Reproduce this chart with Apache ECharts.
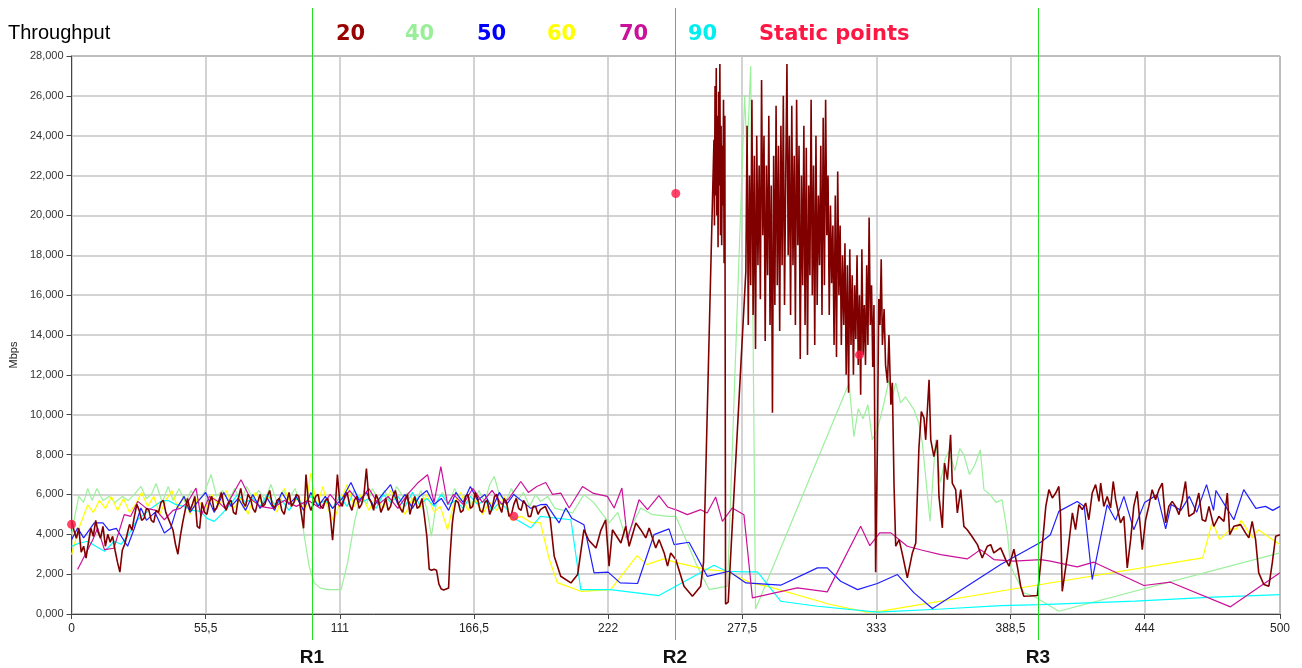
<!DOCTYPE html>
<html><head><meta charset="utf-8">
<script src="https://cdn.jsdelivr.net/npm/echarts@6/dist/echarts.min.js"></script>
<style>html,body{margin:0;padding:0;background:#fff}#c{width:1302px;height:668px}</style>
</head><body><div id="c"></div>
<script>
// ---------------- DATA ----------------
const xTicks = [0, 55.5, 111, 166.5, 222, 277.5, 333, 388.5, 444, 500];
const seriesNames = ['20', '40', '50', '60', '70', '90'];
const staticName = 'Static points';
const refX = [100, 250, 400];
const refNames = ['R1', 'R2', 'R3'];
const staticPoints = [[0, 4500], [183, 4900], [250, 21100], [326, 13000]];

const s20 = [[0,4700],[1,4200],[2,3800],[3,4300],[4,3100],[5,3400],[6,2800],[7,3600],[8,4300],[9,3900],[10,4700],[11,4100],[12,3800],[13,4400],[14,3400],[15,4000],[16,3600],[17,3900],[18,3200],[19,2600],[20,2100],[21,3200],[22,3500],[23,4000],[24,4500],[25,4200],[26,4900],[27,5500],[28,5200],[29,4700],[30,4800],[31,5300],[32,5200],[33,4700],[34,4600],[35,5200],[36,5100],[37,5600],[38,5700],[39,5100],[40,4800],[41,4500],[42,4200],[43,3500],[44,3000],[45,3900],[46,4600],[47,5200],[48,5800],[49,5200],[50,5500],[51,5900],[52,4400],[53,4300],[54,5600],[55,5100],[56,5000],[57,5600],[58,5900],[59,5200],[60,5300],[61,5700],[62,6100],[63,5500],[64,5200],[65,5600],[66,5700],[67,5100],[68,5000],[69,5800],[70,6300],[71,5600],[72,5400],[73,6000],[74,5800],[75,5300],[76,5100],[77,5600],[78,6000],[79,5400],[80,5500],[81,5900],[82,6200],[83,5500],[84,5300],[85,5700],[86,5800],[87,5200],[88,5000],[89,5600],[90,6100],[91,5400],[92,5600],[93,6000],[94,5900],[95,5100],[96,4300],[97,7000],[98,5600],[99,5200],[100,5500],
[101,5900],[102,6000],[103,5400],[104,5300],[105,5700],[106,5800],[107,5000],[108,3700],[109,5200],[110,7000],[111,5600],[112,5400],[113,5900],[114,6100],[115,5500],[116,5200],[117,5700],[118,5900],[119,5300],[120,5500],[121,6000],[122,7300],[123,5800],[124,5600],[125,5200],[126,6000],[127,5700],[128,5100],[129,5400],[130,5800],[131,5200],[132,5400],[133,5900],[134,6200],[135,5600],[136,5300],[137,5100],[138,5700],[139,6000],[140,5000],[141,5500],[142,5900],[143,5300],[144,5400],[145,5800],[146,4900],[147,3900],[148,2250],[149,2200],[150,2250],[151,2200],[152,1500],[153,1250],[154,1200],[155,1250],[156,1300],[156.5,2700],[157.5,4500],[158,5000],[159,5700],[160,5600],[161,5100],[162,5200],[163,5900],[164,6000],[165,5300],[166,5400],[167,6100],[168,5800],[169,5200],[170,5100],[171,5600],[172,5700],[173,5000],[174,5300],[175,5900],[176,6000],[177,5400],[178,5100],[179,5800],[180,5600],[181,4900],[182,5000],[183,5500],[184,5800],[185,5300],[186,5200],[187,5700],[188,5500],[189,4900],[190,4900],[191,5400],[192,5400],[193,5000],[194,5235],[196,5400],[198,4820],[199.7,2900],[202.4,1895],[206.6,1560],[209.4,1980],[212,4230],[214,3700],[217,3315],[219,4200],[221,4730],[222.4,2400],[223.8,4230],[227.3,3565],[229.3,4400],[230.7,3400],[233.5,4570],[235.5,4230],[237.6,3820],[239,4320],[241.7,3315],[243.1,3730],[245.2,3065],[246.6,2400],[247.9,3065],[250,2730],[253.4,1395],[256.9,890],[260.3,1395],[261.5,2600],
[265.8,23800],[266,19500],[266.25,26500],[266.5,21000],[266.75,27400],[267,20000],[267.25,25000],[267.5,18400],[267.75,26200],[268,21500],[268.25,27600],[268.5,19000],[268.75,24500],[269,18500],[269.25,23500],[269.5,20500],[269.75,25800],[270,17600],[270.3,25000],[270.6,500],[271.7,600],
[279,17200],[279.5,24500],[280,14500],[280.5,22000],[281,16500],[281.5,25800],[282,15000],[282.5,23000],[283,13300],[283.5,24000],[284,17500],[284.5,22500],[285,15800],[285.5,26800],[286,19000],[286.5,24000],[287,13700],[287.5,22500],[288,17000],[288.5,25000],[289,14500],[289.5,21500],[290,10100],[290.5,23000],[291,15500],[291.5,25500],[292,16500],[292.5,23500],[293,14200],[293.5,24500],[294,17500],[294.5,26000],[295,15500],[295.5,22000],[296,27600],[296.5,18000],[297,24000],[297.5,15000],[298,25500],[298.5,17500],[299,23000],[299.5,14500],[300,25800],[300.5,18500],[301,23500],[301.5,12800],[302,22000],[302.5,16500],[303,24500],[303.5,14500],[304,23400],[304.5,13000],[305,21500],[305.5,17000],[306,25800],[306.5,16000],[307,22500],[307.5,13500],[308,24000],[308.5,15500],[309,21000],[309.5,17500],[310,23500],[310.5,15000],[311,24900],[311.5,16500],[312,25800],[312.5,19000],[313,22000],[313.5,15000],[314,20500],[314.5,16600],[315,19500],[315.5,13500],[316,21000],[316.5,12900],[317,22200],[317.5,16000],[318,19500],[318.5,13500],[319,18000],[319.5,14500],[320,18600],[320.5,12000],[321,17500],[321.5,11100],[322,18300],[322.5,13500],[323,17000],[323.5,12000],[324,16500],[324.5,13800],[325,18000],[325.5,12500],[326,16000],[326.5,11000],[327,18300],[327.5,13000],[328,15500],[328.5,12500],[329,17500],[329.5,13500],[330,19900],[330.5,14500],[331,16500],[331.5,12400],[332,15500],[332.7,2100],[333.4,8200],[334,15800],[334.5,14500],[335,17800],[335.5,13500],[336.2,15300],[336.8,12500],[337.6,11600],[338.2,14000],
[339,10500],[339.6,11600],[340.3,6500],[341,3400],[342.4,3730],[343.8,2980],[345.8,1810],[347.9,3065],[349.3,3565],[350.6,8325],[351.6,10160],[352.7,9830],[353.4,8740],[354.8,11750],[355.5,8740],[356.8,7900],[358.2,8740],[358.9,5900],[360.3,4320],[361.2,7570],[362.4,6740],[363.7,8990],[364.4,6570],[365.8,6240],[366.5,5070],[367.9,6240],[369.2,4400],[370.6,4230],[372.5,3900],[374.8,3480],[376.8,2815],[378.9,3400],[380.3,3480],[381.6,3065],[384.4,3315],[386.5,2730],[387.9,2400],[389.9,3250],[391.3,2400],[392.7,1395],[394,890],[396.5,900],[399.6,925],[401,2565],[403.1,5400],[404.4,6240],[405.8,5820],[407.2,6070],[408.5,6400],[409.2,4900],[409.9,1140],[412,2900],[414.1,5070],[415.4,4230],[416.8,5485],[418.2,5235],[419.6,5570],[420.9,4730],[422.3,6070],[423.7,6490],[425.1,5650],[425.8,6570],[427.1,5400],[428.5,5900],[429.9,5320],[431,6650],[432,5735],[434,4570],[435.4,4900],[436.8,2315],[438.2,3730],[439.5,5400],[440.9,6150],[442.3,4230],[443,3230],[444.4,4730],[445.7,5400],[447.1,6240],[448.5,5735],[449.9,6240],[451.3,6570],[452.7,4570],[454,5400],[455.4,5650],[456.8,5400],[458.2,4985],[459.6,5735],[460.9,6650],[462.3,4900],[464.4,5070],[466.4,6070],[467.8,4730],[469.2,4650],[470.6,5400],[472.6,4400],[474.7,4900],[476.8,4650],[478.2,6070],[479.2,3980],[480.9,4400],[483.7,4485],[485.7,4070],[487.1,3820],[488.5,4650],[489.9,3730],[491.2,2065],[493.3,1480],[495.4,1395],[496.8,2565],[498.2,3900],[500,3980]];

const s40 = [[0,4000],[1.5,5000],[3,5900],[5,5600],[6.7,6300],[8.5,5700],[10.5,6300],[13,5700],[15.5,5900],[18,5600],[21,5900],[23.5,5700],[26,6000],[28.7,6400],[31,5800],[33,6000],[35,6550],[37.5,5600],[40,6400],[42,5700],[44.5,6300],[47,5600],[49.5,6200],[52,5600],[55,6100],[57.7,7000],[60,5900],[62.5,6200],[65,5700],[67.5,6300],[70,5600],[72.5,6400],[75,5800],[77.5,6200],[80,5700],[82.5,6500],[85,5600],[87.5,6200],[90,5800],[92.5,6300],[94.5,5500],[96.3,3900],[98.3,2400],[100.4,1560],[103,1300],[106,1225],[111.5,1225],[114.2,2565],[117,4570],[119.7,5990],[122,5500],[124.5,6300],[127,5700],[129.5,6200],[132,5600],[134.5,6400],[137,5900],[139.5,6100],[142,5500],[144.5,6200],[147,5300],[148.9,3900],[151,5600],[153.5,6100],[156,5500],[158.5,6300],[161,5700],[163.5,6000],[166,5400],[168.5,6200],[171,5600],[173,6500],[174.9,6900],[177,6000],[179.5,5600],[182,6300],[184.5,5700],[187,6100],[189.5,5400],[192,6000],[194,5650],[197,5900],[200,5300],[202.4,5235],[207.3,5070],[212,5990],[216,5600],[222.4,4570],[226,5100],[229.3,3820],[235.5,5320],[240,5000],[246.6,4900],[250,4900],[254.8,3565],[258.5,2500],[263.8,1225],[271.4,1395],[278.5,26000],[279.5,23000],[281,27500],[283,250],[321.7,11580],[323.7,8900],[325.5,10300],[327.5,9800],[329.5,10500],[331.3,8740],[333.5,9300],[336,10500],[338.2,11750],[339.5,10800],[341,11600],[343,10600],[345,10900],[348.6,10240],[350.5,9600],[352,8600],[355.2,4650],[357.5,8740],[359.5,6600],[361.5,7800],[363,8160],[365.5,7200],[367.5,8300],[369.2,7990],[371.5,7000],[373.8,7500],[376,8240],[377.5,6240],[380,6000],[382.5,5600],[385,5735],[387.2,4070],[388.5,2400],[394,1060],[398.2,890],[408.5,140],[500,3065]];

const s50 = [[0,3730],[2.5,4320],[5,3820],[9.4,4570],[13,4570],[15.5,4200],[18.5,4300],[23.2,3400],[26,4300],[28.7,5320],[31,4700],[34.5,5100],[38.4,4070],[41,4300],[43.5,5300],[46.6,5900],[49,5100],[52,5600],[55.5,6100],[59,5100],[63,6100],[66,5400],[69,5800],[72,5200],[75,6000],[78,5300],[81,5800],[84,5200],[87,6100],[90,5500],[93,5900],[96,5200],[99,6100],[102,5400],[105,5900],[108,5300],[112,5800],[115.6,6600],[119,5700],[122,6100],[125,5400],[128,5900],[132,6490],[135,5500],[138,6000],[141,5300],[144,5900],[147,6200],[150,5500],[153,5800],[156,5200],[159,6100],[162,5600],[165,6400],[168,5700],[171,6000],[174,5300],[177,6100],[180,5500],[183,6000],[186,5700],[190,5300],[194,5485],[196.5,5500],[201.7,4570],[204.5,5320],[207,4800],[212,4480],[216.2,2065],[222,2100],[227,1560],[234.2,1530],[241,3980],[247.2,4270],[249.3,3480],[255.5,3600],[263,1890],[272,2145],[279,1560],[293.4,1445],[308.6,2315],[312.7,2315],[318.2,1645],[325.2,1225],[333.4,1530],[341.7,1980],[348.6,1060],[356.2,275],[384.4,2480],[401,3600],[405,3980],[408.5,5150],[416.1,5650],[419,5400],[422.3,1730],[428.5,5485],[432,4700],[435.4,5900],[439.5,4230],[444,5600],[449.2,5990],[452.7,4270],[455,5500],[459,5200],[462.5,5900],[465.5,5100],[469.6,6490],[472.5,5200],[473.5,6200],[477,5500],[480.9,4730],[485,6240],[490,5300],[494,5400],[497,5200],[500,5400]];

const s60 = [[0,2975],[3,4300],[6.7,5480],[9,5100],[11.5,5700],[14,5300],[16.5,5900],[19,5200],[21.5,5800],[24,5100],[26.5,5500],[29,6100],[31.5,5400],[34,5900],[36.5,5000],[39,5700],[41.5,6200],[44,5300],[46.5,5900],[49,5000],[52,5800],[55,5200],[58,6000],[61,5400],[64,6200],[67,5300],[70,5800],[73,5000],[76,6100],[79,5500],[82,5900],[85,5100],[88,6300],[91,5400],[94,5900],[96.5,5000],[99,7070],[101.5,5400],[104,6400],[106,5300],[108.5,4650],[111,5600],[114,6500],[117,5400],[120,6000],[123,5200],[126,5900],[129,5300],[132,6200],[135,5600],[138,5000],[141,5800],[144,5300],[147,6000],[150,5100],[152.5,5400],[155.6,4230],[158,5500],[161,6100],[164,5200],[167,5800],[170,5000],[173,5600],[176,5200],[179,5900],[182,4700],[186,4900],[190,4600],[194,4580],[197.5,2800],[201,1575],[210.7,1140],[223,1225],[234,2930],[238,2480],[245,2765],[250.7,2565],[263,2230],[271,2145],[281,1560],[288,1390],[314,475],[329,90],[335,140],[384,1140],[401,1480],[468,2815],[472,4650],[475,3730],[479.5,4270],[482,4260],[484,4700],[488.5,3820],[491,4230],[500,3480]];

const s70 = [[2.5,2230],[8.8,3730],[10.8,4320],[13.6,3230],[17.5,3300],[21.8,4985],[24.5,4900],[27.4,5650],[31,5300],[35,5200],[38.4,4730],[42,5200],[45,5300],[48,5600],[51.5,6320],[53.5,4900],[57,5900],[60,5700],[63.5,5300],[70.1,6740],[74,5800],[78,5400],[83,5300],[88,5700],[93,5400],[98,5700],[103,5300],[107,6000],[111,5400],[115,6200],[119,5600],[123,6300],[127,5500],[131,5900],[135,5300],[139,6000],[143.2,6570],[147.3,6990],[150,5600],[152.8,7400],[155.6,5500],[158,6000],[162,5500],[166,6300],[170,5600],[174,6200],[178,5500],[181,5800],[185.9,6650],[189,6100],[192.5,6400],[196.2,6600],[199,6000],[202.4,6070],[205.9,5320],[211.4,6400],[216,6050],[221.7,5900],[224.5,5320],[227.7,6320],[230,3730],[234.8,5735],[238.3,5235],[243,5935],[246.6,5370],[250.7,5200],[254.8,4985],[260.3,5235],[263,5070],[266.5,5870],[269.3,4650],[273.4,5320],[278.2,4985],[281.7,810],[300.3,1310],[312.7,1110],[326.5,4400],[330.3,3430],[334.4,4070],[339,4070],[345.8,3400],[352,3200],[359.6,2980],[370.6,2765],[376.1,3230],[381.6,2730],[390,2650],[401,2730],[405,2650],[416.1,2365],[423,2600],[443.7,1430],[454.7,1595],[479.5,360],[500,2065]];

const s90 = [[0,3400],[3,3550],[6.7,3650],[10,3400],[13.6,3150],[17.7,3650],[20.5,3500],[23.2,3900],[27,4700],[31,5100],[34,5400],[37,5650],[40,5700],[43,5500],[46.5,5400],[50,5200],[53.5,5150],[56,4800],[59,4650],[62,5000],[65,5400],[68.7,5990],[72,5600],[75,5800],[78,5400],[81,6000],[84,5500],[87,5700],[90,5200],[93,5800],[96,5500],[99,5900],[102,5500],[105,5700],[108,5300],[111,5900],[114,5400],[117,6200],[120,5600],[123,5800],[126,5300],[129,6000],[132,5600],[135,5900],[138,5400],[141,6100],[144,5500],[147,5800],[150,5400],[153,6000],[156,5500],[159,5700],[162,5300],[165,5900],[168,5500],[171,5700],[174,5200],[177,5600],[180,5300],[181.8,4900],[186,4600],[190,4320],[194,4900],[206.6,4730],[210.7,1225],[223,1225],[243,925],[265.8,2445],[271,2145],[278,2110],[283.8,2110],[293.4,640],[308.6,390],[333.4,90],[360,250],[384.4,425],[401,475],[440,650],[470,830],[500,975]];

// ---------------- STYLE ----------------
const seriesData = [s20, s40, s50, s60, s70, s90];
const lineColors = ['#800000', '#9cf09c', '#1f1fff', '#ffff00', '#cc1199', '#00ffff'];
const legendColors = ['#990000', '#99ee99', '#0000ff', '#ffff00', '#cc1199', '#00eeee'];
const staticColor = '#ff1744';
const legendLefts = [331, 400, 472, 542, 614, 683, 754];
const drawOrder = [1, 3, 5, 2, 4, 0];

const chart = echarts.init(document.getElementById('c'), null, {renderer: 'canvas'});

const legendBase = {top: 23, padding: 0, icon: 'none', itemWidth: 0, itemHeight: 24, selectedMode: false,
  textStyle: {fontSize: 21, fontWeight: 'bold', fontFamily: 'DejaVu Sans'}};
const legends = seriesNames.map((n, i) => Object.assign({}, legendBase, {
  data: [{name: n, textStyle: {color: legendColors[i]}}], left: legendLefts[i]}));
legends.push(Object.assign({}, legendBase, {
  data: [{name: staticName, textStyle: {color: staticColor}}], left: legendLefts[6]}));

const lineSeries = drawOrder.map(i => ({
  name: seriesNames[i], type: 'line', data: seriesData[i],
  showSymbol: false, symbol: 'none', animation: false,
  color: lineColors[i],
  lineStyle: {color: lineColors[i], width: i === 0 ? 1.6 : 1.2},
  z: 2 + drawOrder.indexOf(i) * 0.01
}));

const option = {
  animation: false,
  backgroundColor: '#fff',
  title: {text: 'Throughput', left: 8, top: 23, padding: 0,
    textStyle: {fontSize: 20, fontWeight: 'normal', color: '#000', fontFamily: 'Liberation Sans'}},
  legend: legends,
  grid: [
    {left: 70, right: 22, top: 56, bottom: 54, show: true, borderColor: '#555', borderWidth: 1},
    {left: 70, right: 22, top: 8, bottom: 28, show: false}
  ],
  xAxis: [
    {type: 'value', min: 0, max: 500, gridIndex: 0,
      axisLine: {lineStyle: {color: '#444', width: 1}},
      axisTick: {show: true, length: 5, customValues: xTicks, lineStyle: {color: '#444'}},
      axisLabel: {customValues: xTicks, margin: 9, color: '#222', fontSize: 12, fontFamily: 'Liberation Sans',
        formatter: v => String(v).replace('.', ',')},
      splitLine: {show: true, lineStyle: {color: '#c4c4c4', width: 1.5}}},
    {type: 'value', min: 0, max: 500, gridIndex: 1, show: false}
  ],
  yAxis: [
    {type: 'value', min: 0, max: 28000, interval: 2000, gridIndex: 0,
      name: 'Mbps', nameLocation: 'middle', nameGap: 51, nameRotate: 90,
      nameTextStyle: {fontSize: 11, color: '#222', fontFamily: 'Liberation Sans', padding: [0, 40, 0, 0]},
      axisLine: {show: true, lineStyle: {color: '#444', width: 1}},
      axisTick: {show: true, length: 5, lineStyle: {color: '#444'}},
      axisLabel: {margin: 8, color: '#333', fontSize: 11, fontFamily: 'Liberation Sans',
        formatter: v => v === 0 ? '0,000' : (v / 1000) + ',000'},
      splitLine: {show: true, lineStyle: {color: '#c4c4c4', width: 1.5}}},
    {type: 'value', min: 0, max: 1, gridIndex: 1, show: false}
  ],
  series: [
    ...lineSeries,
    {name: staticName, type: 'scatter', data: staticPoints, symbol: 'circle', symbolSize: 9,
      itemStyle: {color: staticColor}, z: 5, animation: false},
    {type: 'line', xAxisIndex: 1, yAxisIndex: 1, data: [[0, 0]], showSymbol: false, symbol: 'none',
      lineStyle: {opacity: 0}, silent: true, z: 8, animation: false,
      markLine: {silent: true, symbol: ['none', 'none'], animation: false,
        lineStyle: {color: '#22e022', width: 1, type: 'solid'},
        label: {show: true, position: 'start', formatter: '{b}', color: '#111', fontSize: 19,
          fontWeight: 'bold', fontFamily: 'Liberation Sans', distance: 8},
        emphasis: {disabled: true},
        data: refX.map((x, i) => ({name: refNames[i], xAxis: x}))}}
  ]
};
chart.setOption(option);
</script>
</body></html>
